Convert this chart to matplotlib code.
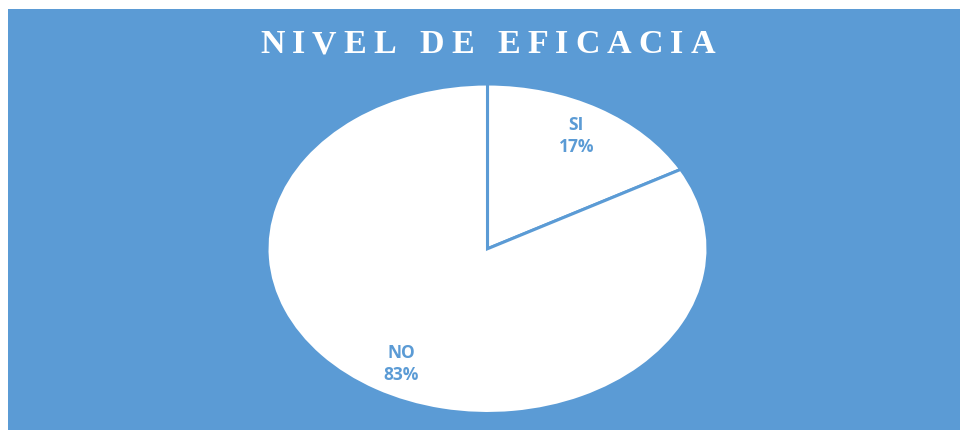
import matplotlib
matplotlib.use("Agg")
import matplotlib.pyplot as plt

categories = ["SI", "NO"]
values = [17, 83]
title = "NIVEL DE EFICACIA"

BLUE = "#5B9BD5"
W, H = 960, 431
fig = plt.figure(figsize=(W / 100, H / 100), dpi=100)
fig.patch.set_facecolor("white")

# blue background panel
bg = fig.add_axes([8 / W, 0, 1 - 8 / W, 1 - 10 / H])
bg.set_facecolor(BLUE)
bg.set_xticks([]); bg.set_yticks([])
for s in bg.spines.values():
    s.set_visible(False)

# pie axes (elliptical)
ax = fig.add_axes([267 / W, (H - 414.5) / H, 441 / W, 329.5 / H])
ax.set_facecolor("none")
wedges, texts = ax.pie(values, startangle=90, counterclock=False,
                       colors=["white", "white"],
                       wedgeprops=dict(edgecolor=BLUE, linewidth=2.2),
                       labels=None)
ax.set_aspect("auto")
ax.set_xlim(-1.0, 1.0)
ax.set_ylim(-1.0, 1.0)
ax.axis("off")

# data labels
total = sum(values)
label_pos = [(0.403, 0.692), (-0.39, -0.695)]
for cat, v, (lx, ly) in zip(categories, values, label_pos):
    ax.text(lx, ly, f"{cat}\n{round(100 * v / total)}%", ha="center", va="center",
            color=BLUE, fontsize=12.5, fontweight="bold", family="Open Sans",
            linespacing=1.3)

# title with letter spacing
fig.canvas.draw()
r = fig.canvas.get_renderer()
fs = 24.5
tracking = 7.0
widths = []
for ch in title:
    t = fig.text(0, 0, ch if ch != " " else "N", fontsize=fs, fontweight="bold",
                 family="Liberation Serif")
    w = t.get_window_extent(r).width
    if ch == " ":
        w *= 0.4
    widths.append(w)
    t.remove()
total_w = sum(widths) + tracking * (len(title) - 1)
x = 487.5 - total_w / 2
ybase = H - 53
for ch, w in zip(title, widths):
    if ch != " ":
        fig.text(x / W, ybase / H, ch, fontsize=fs, fontweight="bold",
                 family="Liberation Serif", color="white", va="baseline", ha="left")
    x += w + tracking

fig.savefig("out.png", dpi=100, facecolor=fig.get_facecolor())
